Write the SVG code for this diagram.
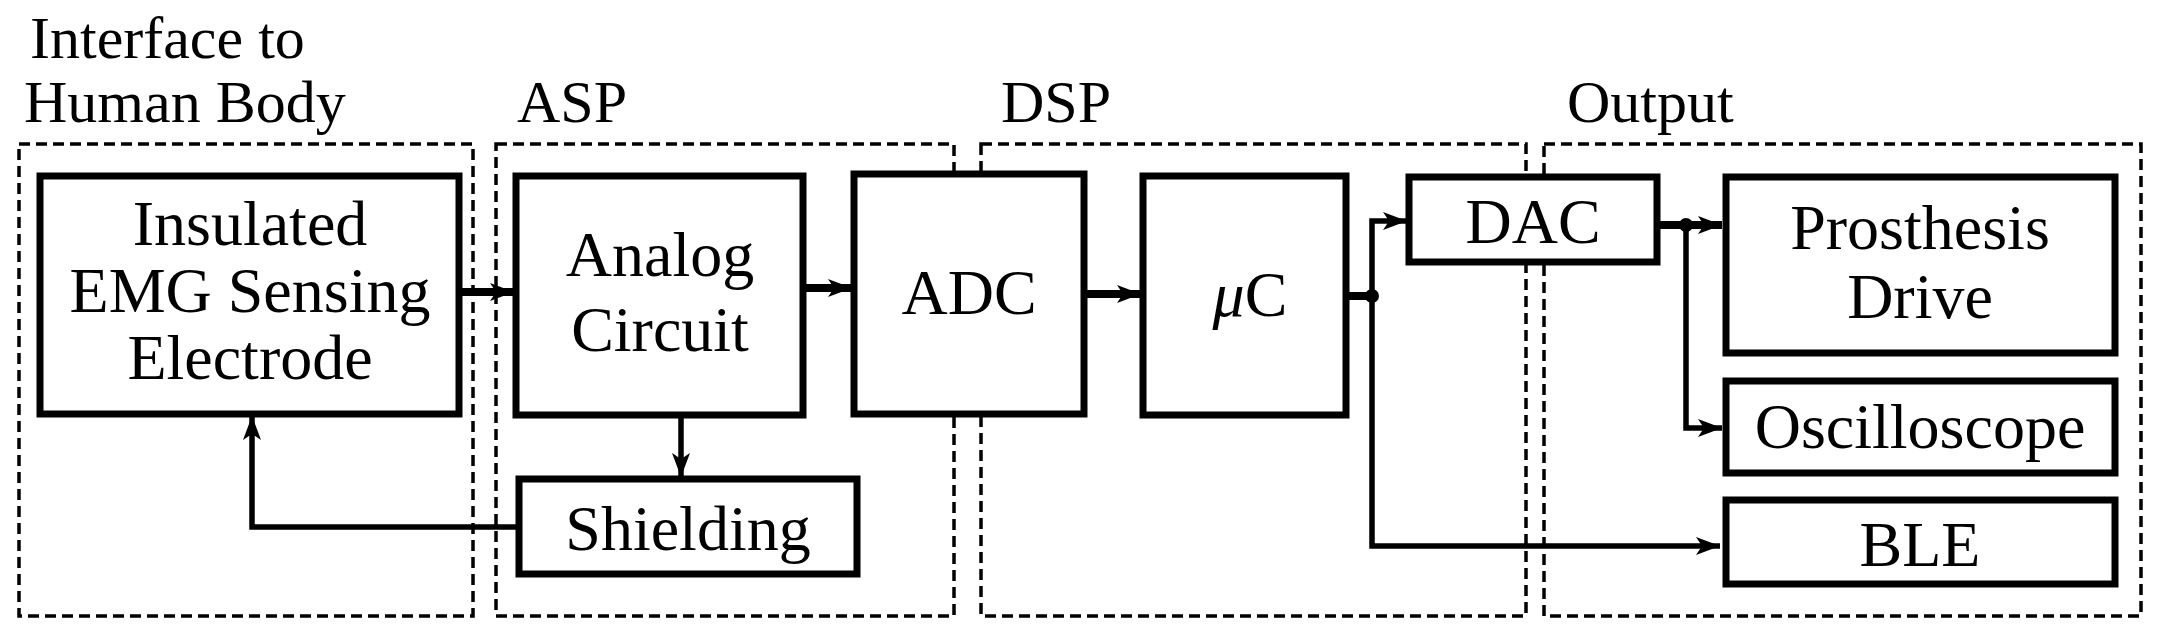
<svg xmlns="http://www.w3.org/2000/svg" width="2163" height="636" viewBox="0 0 2163 636">
<style>
text{font-family:"Liberation Serif","Times New Roman",serif;fill:#000;text-anchor:middle}
.lbl{font-size:60px;text-anchor:start}
.t{font-size:64px}
.g{fill:none;stroke:#000;stroke-width:3.5;stroke-dasharray:11 6}
.n{fill:#fff;stroke:#000;stroke-width:7}
.c{fill:none;stroke:#000;stroke-width:5.5}
.ct{fill:none;stroke:#000;stroke-width:8}
</style>
<defs>
<marker id="a" markerUnits="userSpaceOnUse" markerWidth="28" markerHeight="24" refX="24" refY="12" orient="auto"><path d="M0,3 L24,12 L0,21 L6,12 Z" fill="#000"/></marker>
</defs>
<rect width="2163" height="636" fill="#fff"/>
<g id="groups">
<rect class="g" x="19" y="144" width="454" height="472"/>
<rect class="g" x="496" y="144" width="458" height="472"/>
<rect class="g" x="981" y="144" width="545" height="472"/>
<rect class="g" x="1544" y="144" width="597" height="472"/>
<text class="lbl" x="30" y="58">Interface to</text>
<text class="lbl" x="24" y="122">Human Body</text>
<text class="lbl" x="517" y="122">ASP</text>
<text class="lbl" x="1001" y="122">DSP</text>
<text class="lbl" x="1567" y="122">Output</text>
</g>
<g id="connectors">
<line class="ct" x1="459" y1="292" x2="514" y2="292" marker-end="url(#a)"/>
<line class="ct" x1="803" y1="288" x2="852" y2="288" marker-end="url(#a)"/>
<line class="ct" x1="1084" y1="294" x2="1141" y2="294" marker-end="url(#a)"/>
<line class="c" x1="681" y1="415" x2="681" y2="477" marker-end="url(#a)"/>
<polyline class="c" points="519,527 252,527 252,416" marker-end="url(#a)"/>
<line class="ct" x1="1346" y1="296" x2="1372" y2="296"/>
<polyline class="c" points="1372,296 1372,221 1407,221" marker-end="url(#a)"/>
<polyline class="c" points="1372,296 1372,546 1720,546" marker-end="url(#a)"/>
<circle cx="1372" cy="296" r="7"/>
<line class="ct" x1="1657" y1="225" x2="1722" y2="225" marker-end="url(#a)"/>
<polyline class="c" points="1686,225 1686,428 1722,428" marker-end="url(#a)"/>
<circle cx="1686" cy="225" r="7"/>
</g>
<g id="electrode"><rect class="n" x="40" y="176" width="419" height="238"/>
<text class="t" x="250" y="245">Insulated</text><text class="t" x="250" y="312">EMG Sensing</text><text class="t" x="250" y="379">Electrode</text></g>
<g id="analog"><rect class="n" x="516" y="176" width="287" height="239"/>
<text class="t" x="660" y="276">Analog</text><text class="t" x="660" y="351">Circuit</text></g>
<g id="adc"><rect class="n" x="854" y="174" width="230" height="240"/><text class="t" x="969" y="314">ADC</text></g>
<g id="shielding"><rect class="n" x="519" y="479" width="338" height="95"/><text class="t" x="688" y="550">Shielding</text></g>
<g id="uc"><rect class="n" x="1143" y="176" width="203" height="239"/><text class="t" x="1250" y="316"><tspan font-style="italic">μ</tspan>C</text></g>
<g id="dac"><rect class="n" x="1409" y="177" width="248" height="85"/><text class="t" x="1533" y="243">DAC</text></g>
<g id="prosthesis"><rect class="n" x="1726" y="177" width="389" height="176"/>
<text class="t" x="1920" y="249">Prosthesis</text><text class="t" x="1920" y="318">Drive</text></g>
<g id="oscilloscope"><rect class="n" x="1726" y="381" width="389" height="92"/><text class="t" x="1920" y="448">Oscilloscope</text></g>
<g id="ble"><rect class="n" x="1726" y="500" width="389" height="84"/><text class="t" x="1920" y="566">BLE</text></g>
</svg>
